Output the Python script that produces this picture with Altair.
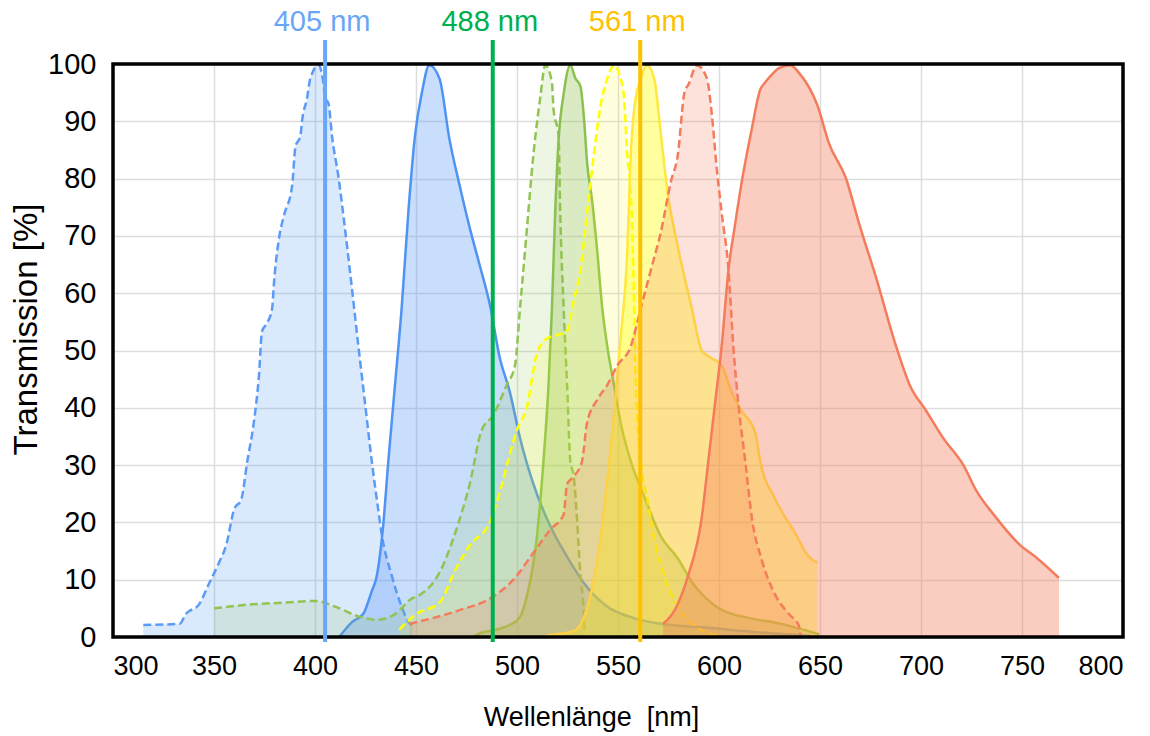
import altair as alt
import pandas as pd

# ---------------- data ----------------
BLUE_EX_NM = [315, 333, 336, 342.6, 347.5, 352.5, 356, 360, 363.5, 366.5, 369.7, 372.2, 373.8, 376.3,
              378.8, 379.6, 382.1, 384.5, 388.7, 390.3, 392.8, 393.6, 396.1, 397.7, 401.8, 403.8, 405.1,
              406.7, 408.4, 411.7, 415, 418.3, 421.5, 424.8, 428.1, 431.4, 433, 438, 442.9, 446.5, 448.5]
BLUE_EX_T = [2.1, 2.3, 4.0, 5.7, 9.3, 13, 16, 22.3, 24, 30.7, 37.4, 45.4, 53.4, 54.8,
             57.4, 61.4, 69.4, 73.4, 78.8, 85.5, 87.5, 90.1, 94.1, 97.5, 99.8, 97.5, 94.1,
             93.1, 87.5, 80.1, 70.8, 60.8, 50.7, 40.7, 30.7, 22, 18, 10.7, 5.3, 2.5, 2]

BLUE_EM_NM = [412, 418.3, 424, 428.1, 430.5, 433.5, 436.3, 439.6, 442.9, 446.2, 449.5, 452.8, 456.6,
              461.6, 466.6, 471.6, 476.6, 481.6, 486.5, 491.5, 496.5, 501.5, 508.1, 516.4, 524.8,
              534.7, 544.7, 558, 571, 594.7, 620, 645]
BLUE_EM_T = [0, 2.6, 4.1, 8.0, 10.5, 18.5, 30.7, 44, 57.4, 74.1, 87.5, 94.8, 99.8,
             97.5, 86.8, 78.8, 71.4, 64.8, 58.1, 48.7, 42.7, 34.7, 26.7, 19.4, 14,
             8.7, 5.3, 3.3, 2.3, 1.6, 0.8, 0.2]

GREEN_EX_NM = [350, 368.9, 385.4, 400.2, 410, 421.5, 430.6, 439.6, 447.9, 451.7, 462, 469.9, 476.6,
               482.4, 488.2, 494.9, 499, 501.5, 504.8, 508.1, 511.5, 514, 517.3, 518.1, 520.6, 521.4,
               523.1, 524.8, 526.4, 528.1, 529.7, 531.4, 533.1, 533.5]
GREEN_EX_T = [5, 5.7, 6, 6.3, 5.3, 3.6, 3, 4, 6.7, 7.3, 11.5, 18.7, 26.7,
              36, 38.7, 44, 47.4, 57.4, 70.8, 84.1, 94.1, 99.8, 96.8, 92.1, 87.5, 74.1,
              57.4, 44, 30.7, 28, 20.7, 10.7, 4, 0.5]

GREEN_EM_NM = [478, 481.7, 490, 496.5, 501.5, 504.8, 509.8, 513.1, 515.6, 517.3, 518.9, 520.6, 523.1,
               526.4, 528.9, 531.4, 533.1, 534.7, 537.2, 539.7, 542.2, 544.7, 548, 551.3, 556.3, 563,
               571.3, 579, 587.9, 600, 615, 628, 649.5]
GREEN_EM_T = [0, 0.65, 1.3, 2.1, 3.5, 7, 17.3, 30.7, 44, 57.4, 74.1, 86.8, 94.8,
              99.8, 97.5, 96.1, 90.8, 82.8, 76.1, 67.4, 57.4, 50.7, 44, 37.4, 30.7, 24.5,
              17.5, 14, 9, 5, 3.3, 2.5, 0.5]

YELLOW_EX_NM = [441.7, 450, 461.6, 469.9, 476.6, 486.5, 491.5, 496.5, 499.8, 504.8, 509.8, 514.8,
                519.8, 524.8, 528.1, 531.4, 534.7, 538, 541.4, 544.7, 548, 551.3, 553, 554.6, 556.3,
                557.1, 558, 558.8, 561.3, 564.6, 567.9, 572.9, 579.6, 587.9, 599.5]
YELLOW_EX_T = [1.3, 4, 6, 12, 16, 20, 25.3, 32, 36, 40, 49.4, 52.1,
               52.7, 53.4, 58.7, 64.1, 74.1, 84.1, 92.8, 97.5, 99.8, 97.5, 94.1, 84.1, 77.4,
               70.8, 57.4, 44, 30.7, 24, 17.3, 10.7, 5.3, 2, 0.3]

YELLOW_EM_NM = [514.8, 528.1, 532.2, 536.4, 541.4, 544.7, 548, 551.3, 554.6, 556.3, 558, 561.3, 564.3,
                567.9, 571.3, 574.6, 578, 581.5, 586.5, 591.5, 596.2, 601.3, 606.3, 611.3, 617.9,
                620.4, 627.9, 637.9, 644.5, 648.7]
YELLOW_EM_T = [0.3, 1, 2.7, 7.3, 17.3, 27.4, 38.7, 52.1, 67.4, 84.1, 92.1, 97.5, 99.8,
               97.5, 87.5, 77.4, 70.8, 65, 57.4, 50, 48.7, 47.4, 42.7, 39.4, 35.7,
               30.7, 24, 18, 14, 13]

RED_EX_NM = [446.7, 458.3, 471.6, 486.5, 498.2, 508.1, 516.4, 523.1, 524.8, 528.1, 532.2, 534.7,
             539.7, 544.7, 549.7, 556.3, 561.3, 566.3, 571.3, 576.2, 579.6, 582.9, 585, 589, 594,
             596.5, 598.8, 601.3, 604.7, 607.1, 609.6, 613, 616.3, 621.3, 627.9, 634.6, 639.5, 640.4]
RED_EX_T = [2.3, 3.3, 4.7, 6.7, 10, 14.7, 18.7, 21.4, 26.7, 28, 30.7, 37.4,
            41.4, 44, 47.4, 50.7, 57.4, 64.1, 70.8, 79.5, 84.1, 95, 96.5, 99.8, 97.5,
            91, 82.1, 74.1, 64.1, 50.7, 40.7, 30.7, 20.7, 13.3, 7.3, 4, 2, 0.3]

RED_EM_NM = [572.3, 578.1, 584.7, 591.4, 594.7, 598, 601.3, 604.7, 608, 611.3, 616.3, 620.4, 622.9,
             627.1, 629.6, 635.4, 639.5, 648.7, 654.5, 662.8, 669.4, 677.7, 687.7, 694.4, 702.7,
             711, 721, 727.6, 735.9, 749.2, 756.6, 768.3]
RED_EM_T = [2.3, 4.7, 10.7, 20.7, 30.7, 40.7, 50.7, 64.1, 72.1, 79.5, 88.8, 95.5, 96.8,
            98.5, 99.3, 99.8, 98.5, 92.8, 86.1, 80.1, 72.1, 62.8, 50.7, 44, 39.4,
            34.7, 30, 25.4, 21.4, 16, 14, 10.3]

LASER_NM = [405, 488, 561]
LASER_LABELS = ["405 nm", "488 nm", "561 nm"]

X_TICKS = list(range(300, 801, 50))
Y_TICKS = list(range(0, 101, 10))

# ---------------- styling ----------------
FONT = "Liberation Sans"
W, H = 1010, 573
SERIES = [
    # nm, T, line colour, dashed, fill colour, fill opacity
    (BLUE_EX_NM, BLUE_EX_T, "#5b9bf5", True, "#5b9bf5", 0.22),
    (BLUE_EM_NM, BLUE_EM_T, "#4f93f3", False, "#5b9bf5", 0.33),
    (GREEN_EX_NM, GREEN_EX_T, "#92c353", True, "#92c353", 0.16),
    (GREEN_EM_NM, GREEN_EM_T, "#8cc152", False, "#92c353", 0.34),
    (YELLOW_EX_NM, YELLOW_EX_T, "#ffff00", True, "#ffff00", 0.13),
    (YELLOW_EM_NM, YELLOW_EM_T, "#ffe840", False, "#ffff00", 0.38),
    (RED_EX_NM, RED_EX_T, "#f47c5c", True, "#f47c5c", 0.22),
    (RED_EM_NM, RED_EM_T, "#f47c5c", False, "#f47c5c", 0.38),
]
LASER_COLORS = ["#6aa6f8", "#00b050", "#ffc000"]

x_axis = alt.Axis(values=X_TICKS, grid=True, gridColor="#dddddd", gridWidth=1.5,
                  domain=False, ticks=False, labelFont=FONT, labelFontSize=27,
                  labelColor="#000000", labelPadding=16,
                  title="Wellenlänge\u00a0 [nm]", titleFont=FONT, titleFontSize=27,
                  titleFontWeight="normal", titleColor="#000000", titlePadding=25,
                  titleX=478)
y_axis = alt.Axis(values=Y_TICKS, grid=True, gridColor="#dddddd", gridWidth=1.5,
                  domain=False, ticks=False, labelFont=FONT, labelFontSize=29,
                  labelColor="#000000", labelPadding=17,
                  title="Transmission [%]", titleFont=FONT, titleFontSize=33,
                  titleFontWeight="normal", titleColor="#000000",
                  titleX=-87, titleY=265, titleAlign="center", titleBaseline="middle",
                  titleAngle=270)
xs = alt.Scale(domain=[300, 800], nice=False, zero=False)
ys = alt.Scale(domain=[0, 100], nice=False)

X = alt.X("nm:Q", scale=xs, axis=x_axis)
Y = alt.Y("t:Q", scale=ys, axis=y_axis)

layers = []
for nm, t, lc, dashed, fc, op in SERIES:
    df = pd.DataFrame({"nm": nm, "t": t})
    base = alt.Chart(df)
    layers.append(base.mark_area(color=fc, opacity=op, interpolate="monotone").encode(x=X, y=Y))
    line_kw = dict(color=lc, strokeWidth=2.5, interpolate="monotone")
    if dashed:
        line_kw["strokeDash"] = [8, 4]
    layers.append(base.mark_line(**line_kw).encode(x=X, y=Y))

# black frame around the plot area (drawn above the grid)
frame = alt.Chart(pd.DataFrame({"k": [0]})).mark_rect(
    fill=None, fillOpacity=0, stroke="#000000", strokeWidth=3.5).encode(
    x=alt.value(0), x2=alt.value(W), y=alt.value(0), y2=alt.value(H))
layers.append(frame)

laser_df = pd.DataFrame({"nm": LASER_NM, "label": LASER_LABELS})
lcol = alt.Color("label:N", scale=alt.Scale(domain=LASER_LABELS, range=LASER_COLORS), legend=None)
rules = alt.Chart(laser_df).mark_rule(strokeWidth=4).encode(
    x=X, y=alt.value(-24), y2=alt.value(578), color=lcol)
texts = alt.Chart(laser_df).mark_text(font=FONT, fontSize=29, baseline="middle", align="center",
                                      dx=-3).encode(
    x=X, y=alt.value(-42), text="label:N", color=lcol)
layers += [rules, texts]

chart = alt.layer(*layers).properties(
    width=W, height=H,
    padding={"left": 113, "top": 64, "right": 27, "bottom": 99},
    autosize=alt.AutoSizeParams(type="none"),
    background="white",
).configure_view(stroke=None)

chart.save("out.html", embed_options={"renderer": "svg", "actions": False})
